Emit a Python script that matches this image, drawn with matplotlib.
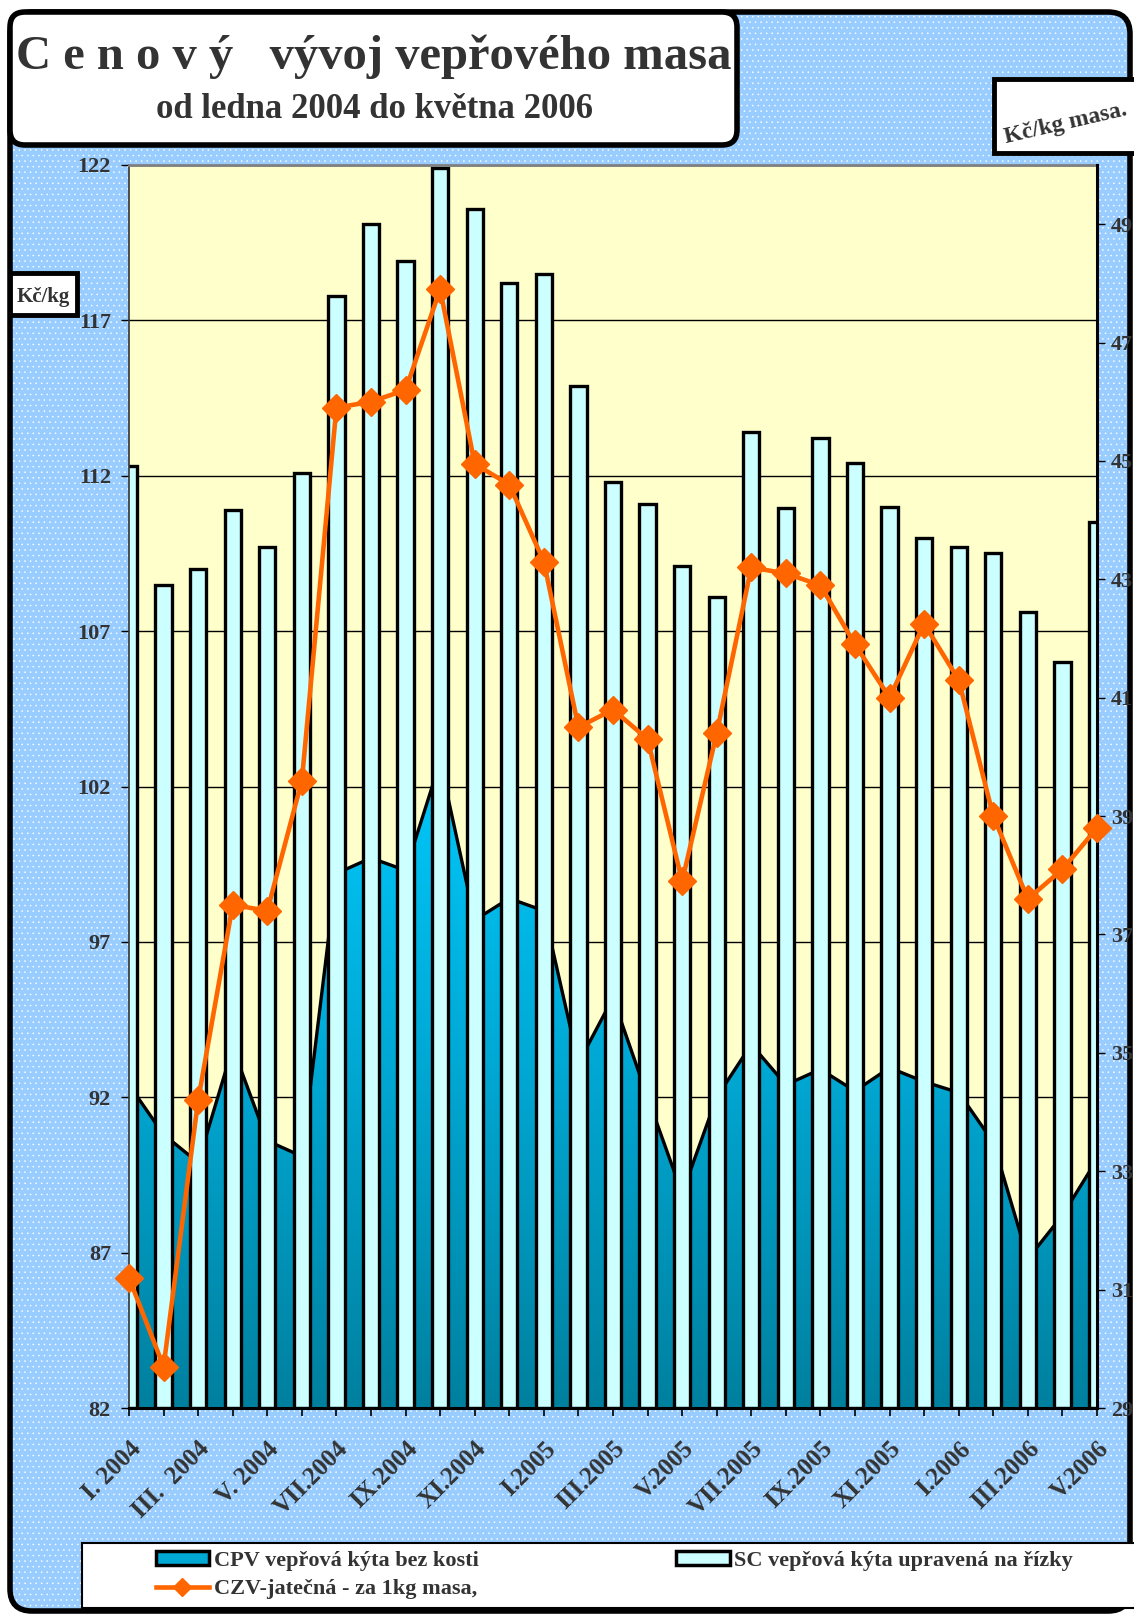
import numpy as np
import matplotlib
matplotlib.use("Agg")
import matplotlib.pyplot as plt
from matplotlib.patches import FancyBboxPatch, Rectangle, Polygon, Patch
from matplotlib.lines import Line2D
from matplotlib.colors import LinearSegmentedColormap

plt.rcParams['font.family'] = ['Liberation Serif', 'DejaVu Serif']
plt.rcParams['font.weight'] = 'bold'
plt.rcParams['hatch.linewidth'] = 0.35

# data
months = ['I.2004', 'II.2004', 'III.2004', 'IV.2004', 'V.2004', 'VI.2004', 'VII.2004',
          'VIII.2004', 'IX.2004', 'X.2004', 'XI.2004', 'XII.2004',
          'I.2005', 'II.2005', 'III.2005', 'IV.2005', 'V.2005', 'VI.2005', 'VII.2005',
          'VIII.2005', 'IX.2005', 'X.2005', 'XI.2005', 'XII.2005',
          'I.2006', 'II.2006', 'III.2006', 'IV.2006', 'V.2006']
tick_labels = ['I. 2004', 'III.  2004', 'V. 2004', 'VII.2004', 'IX.2004', 'XI.2004',
               'I.2005', 'III.2005', 'V.2005', 'VII.2005', 'IX.2005', 'XI.2005',
               'I.2006', 'III.2006', 'V.2006']
sc = [112.3, 108.5, 109.0, 110.9, 109.7, 112.1, 117.8, 120.1, 118.9, 121.9, 120.6, 118.2,
      118.5, 114.9, 111.8, 111.1, 109.1, 108.1, 113.4, 110.95, 113.2, 112.4, 111.0, 110.0,
      109.7, 109.5, 107.6, 106.0, 110.5]
cpv = [92.4, 90.8, 89.9, 93.6, 90.6, 90.1, 99.2, 99.7, 99.3, 102.8, 97.7, 98.4,
       98.0, 93.1, 95.2, 92.0, 88.9, 92.0, 93.7, 92.4, 92.9, 92.2, 92.95, 92.5,
       92.15, 90.55, 86.8, 88.2, 90.0]
czv = [31.2, 29.7, 34.2, 37.5, 37.4, 39.6, 45.9, 46.0, 46.2, 47.9, 44.95, 44.6,
       43.3, 40.5, 40.8, 40.3, 37.9, 40.4, 43.2, 43.1, 42.9, 41.9, 41.0, 42.25,
       41.3, 39.0, 37.6, 38.1, 38.8]
left_ticks = [82, 87, 92, 97, 102, 107, 112, 117, 122]
right_ticks = [29, 31, 33, 35, 37, 39, 41, 43, 45, 47, 49]

W, H = 1134, 1616
fig = plt.figure(figsize=(W / 100, H / 100), dpi=100)
fig.patch.set_facecolor('white')
txt = '#333333'


def px_box(x0, y0, x1, y1, **kw):
    # box in pixel coords, origin top-left
    return FancyBboxPatch((x0 / 100, (H - y1) / 100), (x1 - x0) / 100, (y1 - y0) / 100,
                          transform=fig.dpi_scale_trans, **kw)


# blue dotted background with rounded black frame
fig.add_artist(px_box(10, 12, 1130, 1611, boxstyle='round,pad=0,rounding_size=0.22',
                      facecolor='#99CCFF', edgecolor='white', hatch='...', lw=0, zorder=-2))
fig.add_artist(px_box(10, 12, 1130, 1611, boxstyle='round,pad=0,rounding_size=0.22',
                      facecolor='none', edgecolor='black', lw=4, zorder=-1))

# title box
fig.add_artist(px_box(10, 12, 737, 145, boxstyle='round,pad=0,rounding_size=0.15',
                      facecolor='white', edgecolor='black', lw=4, zorder=5))
fig.text(374 / W, 1 - 57 / H, 'C e n o v ý   vývoj vepřového masa', ha='center', va='center',
         fontsize=35, color=txt, zorder=6)
fig.text(374 / W, 1 - 110 / H, 'od ledna 2004 do května 2006', ha='center', va='center',
         fontsize=25, color=txt, zorder=6)

# unit boxes
fig.add_artist(px_box(10, 273, 77, 315, boxstyle='square,pad=0',
                      facecolor='white', edgecolor='black', lw=3.5, zorder=5))
fig.text(43 / W, 1 - 297 / H, 'Kč/kg', ha='center', va='center', fontsize=15, color=txt, zorder=6)
fig.add_artist(px_box(994, 79, 1150, 153, boxstyle='square,pad=0',
                      facecolor='white', edgecolor='black', lw=3.5, zorder=5))
fig.text(1066 / W, 1 - 124 / H, 'Kč/kg masa.', ha='center', va='center', fontsize=17,
         rotation=13, color=txt, zorder=6)

# main axes
ax = fig.add_axes([129 / W, 1 - 1408 / H, (1097 - 129) / W, (1408 - 165) / H])
ax.set_facecolor('#FFFFCC')
x = np.arange(len(months))

# CPV area with vertical gradient
cmap = LinearSegmentedColormap.from_list('cpv', ['#00809F', '#00A8D4', '#00CCFF'])
grad = np.linspace(0, 1, 256).reshape(-1, 1)
im = ax.imshow(grad, extent=[0, len(months) - 1, 82, 104], origin='lower', aspect='auto',
               cmap=cmap, zorder=1)
verts = np.column_stack([x, cpv]).tolist() + [[len(months) - 1, 82], [0, 82]]
clip = Polygon(verts, closed=True, facecolor='none', edgecolor='none', transform=ax.transData)
ax.add_patch(clip)
im.set_clip_path(clip)
ax.plot(x, cpv, color='black', lw=2.4, zorder=1.5, solid_joinstyle='miter')

# SC bars
ax.bar(x, np.array(sc) - 82, bottom=82, width=0.47, color='#CCFFFF', edgecolor='black',
       lw=2.4, zorder=2)

ax.set_xlim(0, len(months) - 1)
ax.set_ylim(82, 122)
ax.set_yticks(left_ticks)
ax.yaxis.grid(True, color='black', lw=1)
ax.set_axisbelow(True)
ax.set_xticks(x)
lab = []
for i in range(len(months)):
    lab.append(tick_labels[i // 2] if i % 2 == 0 else '')
ax.set_xticklabels(lab, rotation=45, ha='right', va='top', rotation_mode='anchor',
                   fontsize=18, color=txt)
ax.tick_params(axis='x', direction='out', length=6, width=1.2, pad=15)
ax.tick_params(axis='y', direction='out', length=6, width=1, pad=7, labelsize=16,
               labelcolor=txt)
ax.spines['top'].set_color('#808080')
ax.spines['top'].set_linewidth(2)
ax.spines['left'].set_color('#333333')
ax.spines['left'].set_linewidth(1.2)
ax.spines['bottom'].set_linewidth(2.2)
ax.spines['right'].set_visible(False)

# CZV line on right axis
ax2 = ax.twinx()
ax2.plot(x, czv, color='#FF6600', lw=3.3, marker='D', ms=14, mec='#FF6600',
         zorder=3, clip_on=False)
ax2.set_ylim(29, 50)
ax2.set_yticks(right_ticks)
ax2.tick_params(axis='y', direction='out', length=6, width=1, pad=4, labelsize=16,
                labelcolor=txt)
ax2.spines['right'].set_linewidth(2.2)
for s in ['top', 'left', 'bottom']:
    ax2.spines[s].set_visible(False)

# legend
fig.add_artist(px_box(82, 1543, 1150, 1608, boxstyle='square,pad=0',
                      facecolor='white', edgecolor='black', lw=1.5, zorder=5))
handles = [Patch(facecolor='#00A8D4', edgecolor='black', lw=2.5),
           Line2D([], [], color='#FF6600', lw=3.3, marker='D', ms=9),
           Patch(facecolor='#CCFFFF', edgecolor='black', lw=2.5)]
labels = ['CPV vepřová kýta bez kosti', 'CZV-jatečná - za 1kg masa,',
          'SC vepřová kýta upravená na řízky']
leg = fig.legend(handles, labels, ncol=2, loc='upper left',
                 bbox_to_anchor=(138 / W, 1 - 1533 / H), frameon=False, fontsize=16,
                 handlelength=2.4, handleheight=0.6, handletextpad=0.2,
                 labelspacing=0.38, columnspacing=8.9, borderpad=0.3)
leg.set_zorder(6)
for t in leg.get_texts():
    t.set_color(txt)

fig.savefig('out.png', dpi=100)
